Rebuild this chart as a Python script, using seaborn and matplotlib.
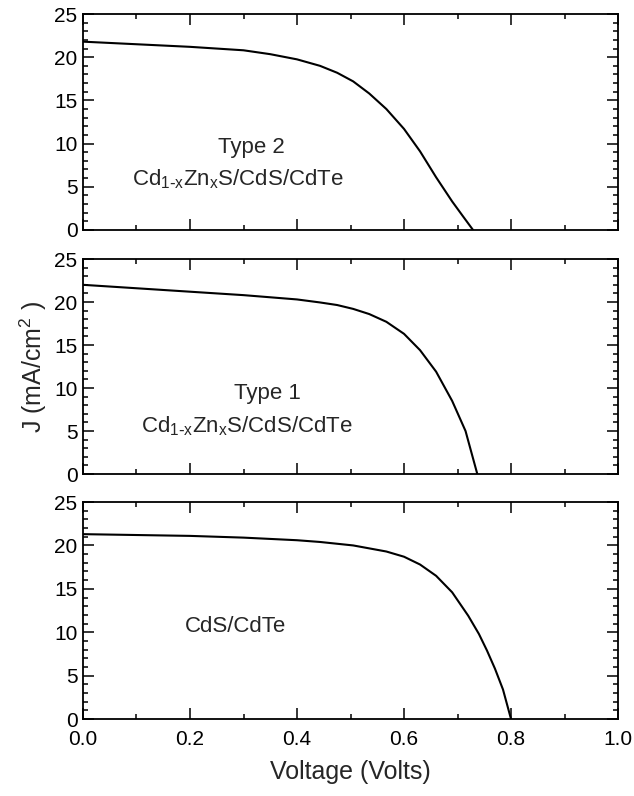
import numpy as np
import pandas as pd
import seaborn as sns
import matplotlib.pyplot as plt
from matplotlib.ticker import MultipleLocator

# J-V curves (Volts, mA/cm^2)
v_type2 = [0.0, 0.1, 0.2, 0.3, 0.35, 0.4, 0.443, 0.475, 0.505, 0.535, 0.567, 0.6, 0.63, 0.66, 0.69, 0.71, 0.729]
j_type2 = [21.8, 21.5, 21.2, 20.8, 20.35, 19.75, 19.0, 18.2, 17.2, 15.8, 14.0, 11.7, 9.1, 6.1, 3.3, 1.6, 0.0]

v_type1 = [0.0, 0.1, 0.2, 0.3, 0.4, 0.443, 0.475, 0.505, 0.535, 0.567, 0.6, 0.63, 0.66, 0.69, 0.715, 0.737]
j_type1 = [22.0, 21.6, 21.2, 20.8, 20.3, 19.95, 19.65, 19.2, 18.6, 17.7, 16.3, 14.4, 11.9, 8.5, 5.0, 0.0]

v_cds = [0.0, 0.2, 0.3, 0.4, 0.443, 0.505, 0.567, 0.6, 0.63, 0.66, 0.69, 0.72, 0.74, 0.755, 0.77, 0.785, 0.8]
j_cds = [21.3, 21.1, 20.9, 20.6, 20.4, 20.0, 19.3, 18.7, 17.8, 16.5, 14.6, 11.9, 9.8, 7.9, 5.8, 3.4, 0.0]

labels = [
    ("Type 2", r"Cd$_{1\text{-}x}$Zn$_x$S/CdS/CdTe"),
    ("Type 1", r"Cd$_{1\text{-}x}$Zn$_x$S/CdS/CdTe"),
    ("CdS/CdTe", None),
]

sns.set_style("white")
plt.rcParams['font.family'] = ['Liberation Sans', 'DejaVu Sans']
plt.rcParams['mathtext.default'] = 'regular'

fig = plt.figure(figsize=(6.34, 7.96), dpi=100)
boxes = [
    (0.1309, 0.7111, 0.8439, 0.2713),
    (0.1309, 0.4045, 0.8439, 0.2701),
    (0.1309, 0.0967, 0.8439, 0.2726),
]
curves = [(v_type2, j_type2), (v_type1, j_type1), (v_cds, j_cds)]
# text anchor positions (data coords)
text_pos = [((0.314, 9.5), (0.29, 5.9)),
            ((0.345, 9.4), (0.306, 5.6)),
            ((0.285, 10.7), None)]

axes = []
for i, (box, (v, j)) in enumerate(zip(boxes, curves)):
    ax = fig.add_axes(box)
    df = pd.DataFrame({'V': v, 'J': j})
    sns.lineplot(data=df, x='V', y='J', color='black', linewidth=1.5, ax=ax,
                 sort=False, estimator=None)
    ax.set_xlim(0, 1.0)
    ax.set_ylim(0, 25)
    ax.xaxis.set_major_locator(MultipleLocator(0.2))
    ax.xaxis.set_minor_locator(MultipleLocator(0.1))
    ax.yaxis.set_major_locator(MultipleLocator(5))
    ax.yaxis.set_minor_locator(MultipleLocator(1))
    ax.tick_params(which='both', direction='in', top=True, right=True,
                   bottom=True, left=True, colors='black', labelsize=15, width=1.1)
    ax.tick_params(which='major', length=8)
    ax.tick_params(which='minor', length=3.5)
    ax.tick_params(axis='y', pad=4)
    for s in ax.spines.values():
        s.set_linewidth(1.3)
        s.set_color('black')
    ax.set_xlabel('')
    ax.set_ylabel('')
    if i < 2:
        ax.set_xticklabels([])
    else:
        ax.set_xticks([0.0, 0.2, 0.4, 0.6, 0.8, 1.0])
        ax.set_xticklabels(['0.0', '0.2', '0.4', '0.6', '0.8', '1.0'])
        ax.tick_params(axis='x', pad=8)
        ax.set_xlabel('Voltage (Volts)', fontsize=18, labelpad=8)
    t1, t2 = labels[i]
    p1, p2 = text_pos[i]
    ax.text(p1[0], p1[1], t1, ha='center', va='center', fontsize=16)
    if t2:
        ax.text(p2[0], p2[1], t2, ha='center', va='center', fontsize=16)
    axes.append(ax)

axes[1].set_ylabel(r'J (mA/cm$^2$ )', fontsize=18, labelpad=4)

fig.savefig('out.png', dpi=100)
